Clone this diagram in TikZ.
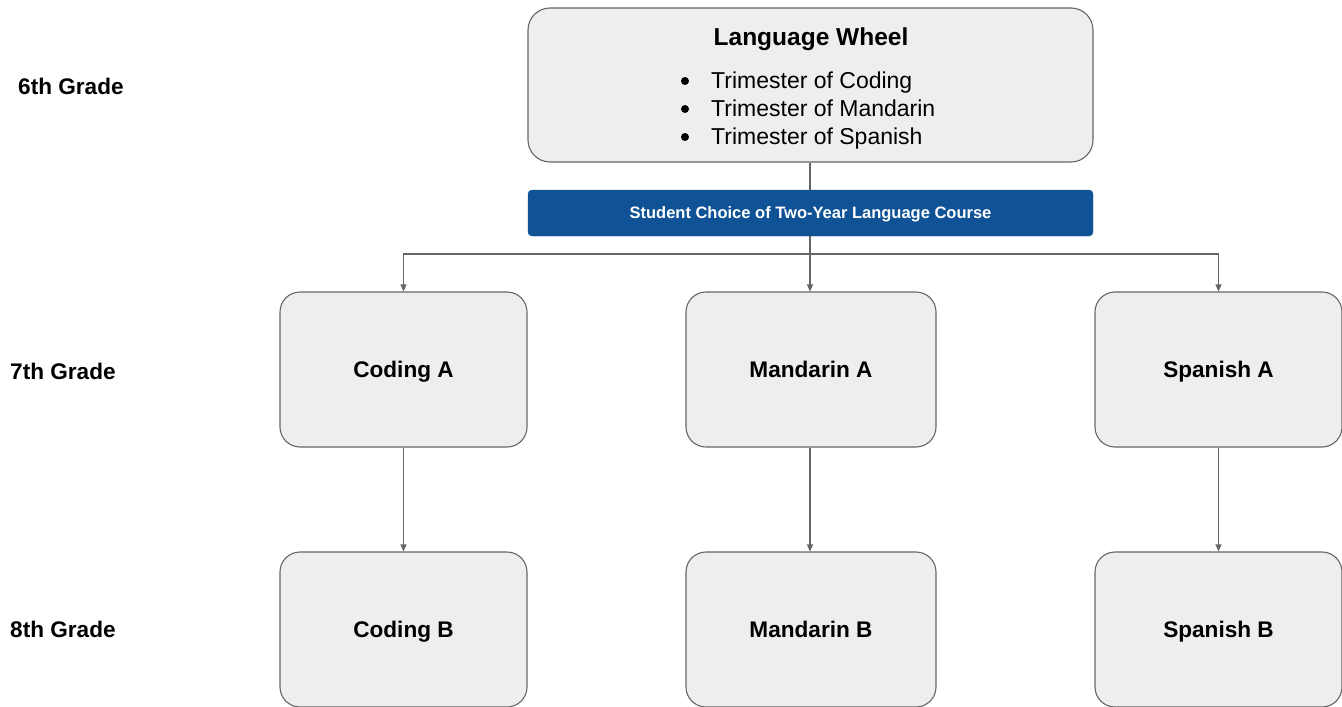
\documentclass[tikz,border=0pt]{standalone}
\usepackage{fontspec}
\setmainfont{Liberation Sans}
\usetikzlibrary{arrows.meta}
\definecolor{boxfill}{HTML}{EEEEEE}
\definecolor{boxline}{HTML}{666666}
\definecolor{barblue}{HTML}{0F5396}
\tikzset{
  gbox/.style={draw=boxline, line width=1.1pt, fill=boxfill, rounded corners=20pt, minimum width=247pt, minimum height=155pt, inner sep=0pt, text height=16.2pt, text depth=0pt, font=\fontsize{22.6}{26}\selectfont\bfseries},
  grade/.style={anchor=west, inner sep=0pt, text height=16.2pt, text depth=0pt, font=\fontsize{22.6}{26}\selectfont\bfseries},
  conn/.style={draw=boxline, line width=1.1pt},
  arr/.style={conn, -{Triangle[length=7pt,width=6pt]}},
  item/.style={anchor=west, inner sep=0pt, text height=16.5pt, text depth=0pt, font=\fontsize{23}{26}\selectfont},
  bul/.style={circle, fill=black, inner sep=0pt, minimum size=8pt},
}
\begin{document}
\begin{tikzpicture}[x=1pt,y=-1pt]
\useasboundingbox (0,0) rectangle (1342,707);
% top box
\node[draw=boxline, line width=1.1pt, fill=boxfill, rounded corners=22pt, minimum width=565pt, minimum height=154pt, inner sep=0pt] (wheel) at (810.5,85) {};
\node[inner sep=0pt, text height=17.5pt, text depth=0pt, font=\fontsize{24.5}{28}\selectfont\bfseries] (wtitle) at (811,37) {Language Wheel};
\node[bul] (b1) at (685,81) {};
\node[bul] (b2) at (685,109) {};
\node[bul] (b3) at (685,137) {};
\node[item] (i1) at (711,80) {Trimester of Coding};
\node[item] (i2) at (711,108) {Trimester of Mandarin};
\node[item] (i3) at (711,136) {Trimester of Spanish};
% blue bar
\node[fill=barblue, draw=barblue, rounded corners=4pt, minimum width=565pt, minimum height=46pt, inner sep=0pt, text height=11.8pt, text depth=0pt, text=white, font=\fontsize{16.5}{19}\selectfont\bfseries] (choice) at (810.5,213) {Student Choice of Two-Year Language Course};
% row boxes
\node[gbox] (ca) at (403.5,369.5) {Coding A};
\node[gbox, minimum width=250pt] (ma) at (811,369.5) {Mandarin A};
\node[gbox] (sa) at (1218.5,369.5) {Spanish A};
\node[gbox] (cb) at (403.5,629.5) {Coding B};
\node[gbox, minimum width=250pt] (mb) at (811,629.5) {Mandarin B};
\node[gbox] (sb) at (1218.5,629.5) {Spanish B};
% grade labels
\node[grade] (g6) at (18,86) {6th Grade};
\node[grade] (g7) at (10,371) {7th Grade};
\node[grade] (g8) at (10,629) {8th Grade};
% connectors
\coordinate (split) at (810,254);
\draw[conn] (wheel.south -| split) -- (choice.north -| split);
\draw[conn] (choice.south -| split) -- (split);
\draw[arr] (split) -| (ca.north);
\draw[arr] (split) -- (split |- ma.north);
\draw[arr] (split) -| (sa.north);
\draw[arr] (ca.south) -- (cb.north);
\draw[arr] (ma.south -| split) -- (mb.north -| split);
\draw[arr] (sa.south) -- (sb.north);
\end{tikzpicture}
\end{document}
